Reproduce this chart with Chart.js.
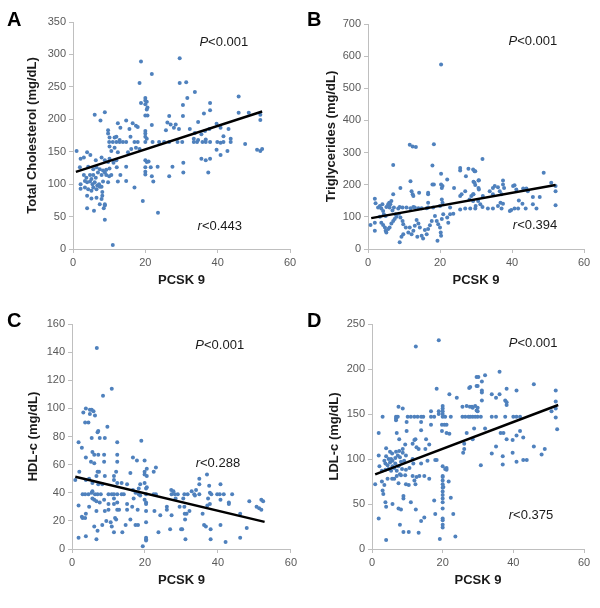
<!DOCTYPE html>
<html>
<head>
<meta charset="utf-8">
<script src="https://cdn.jsdelivr.net/npm/chart.js@4.4.1/dist/chart.umd.min.js"></script>
<style>
  body { margin: 0; background: #fff; width: 600px; height: 608px; position: relative; overflow: hidden; }
  canvas { position: absolute; }
</style>
</head>
<body>
<canvas id="panelA" width="300" height="300" style="left:0;top:0"></canvas>
<canvas id="panelB" width="300" height="300" style="left:300px;top:0"></canvas>
<canvas id="panelC" width="300" height="308" style="left:0;top:300px"></canvas>
<canvas id="panelD" width="300" height="308" style="left:300px;top:300px"></canvas>
<script>
// values: [PCSK 9, lipid value]
const cholPoints = [
  [6.0,207],[8.8,211],[7.6,198],[9.7,183],[9.7,178],[12.4,194],[14.7,198],[16.5,194],[17.4,190],[17.9,188],[13.1,187],[15.6,185],
  [10.1,172],[11.5,172],[12.0,173],[12.9,168],[13.8,165],[15.9,173],
  [10.0,165],[11.0,165],[12.0,165],[12.9,165],[14.7,165],[17.0,165],[17.9,165],[20.0,165],[22.0,165],[23.8,165],[25.2,165],[26.6,165],[28.9,165],[30.2,165],
  [10.1,158],[10.6,151],[11.5,156],[12.4,149],[15.2,149],[16.1,154],[17.4,156],[18.4,154],
  [1.0,151],[2.1,139],[3.0,141],[3.9,149],[4.8,145],[6.3,137],[7.9,141],[8.8,137],[9.7,134],[10.1,139],[11.2,133],[12.0,137],[20.0,137],[20.4,134],[20.9,135],
  [1.9,126],[4.2,127],[5.6,123],[6.5,126],[7.4,123],[8.3,121],[9.2,122],[10.1,124],[12.1,126],[14.7,127],[20.0,126],[21.5,126],[27.5,127],[30.5,133],
  [3.0,114],[3.7,110],[4.7,114],[5.1,108],[5.6,114],[6.3,110],[6.9,118],[7.9,114],[8.8,118],[9.2,114],[10.0,112],[10.6,114],[13.1,114],[20.0,119],[20.0,115],[21.8,112],[23.4,127],[26.6,112],[30.5,118],
  [2.1,100],[3.3,105],[3.9,103],[4.7,104],[5.4,100],[6.0,103],[6.7,98],[7.2,100],[7.9,96],[8.3,104],[9.7,103],[12.4,104],[14.7,105],[22.2,104],
  [2.1,93],[3.3,95],[4.2,92],[5.1,90],[5.6,95],[6.5,92],[7.4,96],[8.1,88],[17.0,95],
  [3.9,82],[5.1,78],[6.5,79],[8.1,82],[7.9,77],[8.8,69],[19.3,74],[8.8,67],
  [3.9,63],[5.8,59],[7.4,69],[8.5,63],[8.8,45],[23.5,56],[11.0,6],
  [18.8,289],[21.8,270],[18.4,256],[20.0,233],[20.0,229],[20.4,227],[20.0,223],[20.6,218],[20.4,215],[20.0,206],[20.6,206],[18.8,225],[21.8,191],[20.0,182],[20.0,178],[20.0,173],[20.4,170],
  [26.6,205],[26.1,195],[25.7,183],[27.0,192],[27.9,187],[28.4,192],[29.3,185],[30.4,205],[29.5,256],[29.5,294],[31.3,257],[31.6,233],[30.4,222],
  [33.7,242],[34.6,196],[36.2,209],[37.9,225],[37.9,214],[45.8,235],[45.8,210],[48.6,210],[51.8,207],[51.8,199],
  [32.3,185],[33.7,179],[35.5,177],[36.5,182],[37.7,185],[39.7,193],[40.8,187],[41.6,174],[43.0,185],
  [33.4,165],[34.3,165],[35.8,165],[36.7,165],[37.9,165],[39.9,165],[40.8,164],[41.6,165],[43.6,165],[47.6,162],
  [33.4,170],[34.6,168],[36.7,169],[43.6,170],
  [39.7,153],[40.8,145],[42.7,151],[50.9,153],[51.8,151],[52.3,154],
  [35.5,139],[36.7,137],[37.9,139],[37.4,118]
];
const trigPoints = [
  [20.3,574],[11.6,324],[12.4,319],[13.3,317],[18.3,326],[7.0,261],[17.9,260],
  [20.3,234],[20.3,201],[20.7,196],[22.0,216],[11.8,211],[12.1,180],[12.4,170],[16.7,175],[17.9,201],[23.9,190],[25.6,165],[26.0,170],
  [0.7,75],[1.9,82],[1.9,57],[1.9,156],[2.1,142],
  [2.8,129],[3.3,134],[3.7,126],[4.0,139],[4.2,118],[4.4,108],[4.9,103],[5.1,131],[5.6,139],[5.9,144],[6.0,129],[6.2,139],[6.5,149],[6.8,120],[7.0,170],[7.2,129],[7.7,108],[8.4,126],[8.8,131],[9.6,129],[10.7,129],[11.8,127],[12.6,131],[13.0,129],[14.0,127],[14.9,127],[16.3,127],[16.7,129],[18.1,129],[20.0,134],[20.5,154],[20.7,144],[22.8,129],[25.6,123],[27.0,126],[28.4,126],[29.8,126],
  [3.3,100],[3.7,82],[4.2,75],[4.7,67],[4.9,57],[5.1,51],[5.6,62],[6.0,67],[6.5,79],[7.0,87],[7.4,93],[7.9,100],[8.6,110],[9.0,98],[9.6,87],[9.8,77],[10.5,67],[11.2,51],[11.6,67],[12.1,46],[12.6,57],[13.0,72],[13.5,90],[14.0,79],[14.4,67],[14.9,41],[15.3,33],[15.8,59],[16.3,46],[16.7,62],[17.2,74],[17.7,87],[18.6,103],[19.1,87],[19.5,77],[20.0,67],[20.2,51],[20.3,41],[20.5,93],[20.9,108],[22.0,98],[22.3,82],[22.8,108],[23.7,110],[19.3,26],[8.8,21],[9.3,38],[9.8,46],[13.7,38],
  [9.0,190],[12.6,165],[14.2,175],[16.7,144],[16.7,170],[18.3,201],[20.5,190],[25.6,244],[25.6,252],[27.9,250],[29.8,242],[27.2,226],[29.3,209],[29.8,199],[29.3,170],[30.7,190],[30.7,213],[27.0,180],
  [31.8,280],[29.2,247],[29.6,242],[30.8,214],[30.8,185],[29.6,206],[29.2,170],[28.7,165],[31.9,165],[33.8,180],[34.7,190],[35.2,196],[36.1,192],[37.5,213],[37.5,201],[37.8,190],[34.7,170],[37.1,170],[36.6,180],[40.3,196],[40.7,198],[41.2,185],[43.1,188],[44.0,188],[44.4,180],[45.8,162],[47.7,162],[48.8,237],[50.9,206],[52.1,196],[52.1,180],[52.1,136],
  [28.2,154],[29.2,149],[29.9,134],[30.6,149],[31.2,139],[31.8,131],[33.3,126],[34.7,126],[36.1,134],[36.8,144],[37.5,141],[37.1,126],[39.4,118],[39.8,121],[40.7,126],[41.7,126],[41.9,151],[42.9,141],[43.8,126],[45.8,139],[46.8,126]
];
const hdlPoints = [
  [6.8,143],[10.9,114],[8.5,109],
  [3.8,100],[4.9,99],[5.4,99],[5.9,98],[3.1,97],[4.9,96],[6.3,95],[3.6,90],[4.5,90],
  [7.2,84],[7.0,83],[9.7,87],
  [1.8,76],[2.7,72],[5.4,79],[7.6,79],[9.0,79],[12.4,76],[19.0,77],
  [3.8,65],[5.6,69],[6.1,67],[7.2,67],[8.8,67],[5.2,62],[6.1,61],[8.8,62],[12.4,67],[12.4,62],[16.7,65],[17.8,63],[19.9,63],[23.0,58],[22.4,55],[20.5,57],[20.5,52],[19.9,53],[19.9,55],[16.0,54],
  [0.9,49],[2.0,55],[3.8,49],[4.7,50],[5.6,47],[6.7,52],[7.0,55],[7.4,55],[7.2,46],[8.3,46],[9.0,52],[11.5,52],[11.5,49],[12.1,55],[12.4,47],[13.6,47],[15.1,46],[18.7,46],[19.9,47],[20.5,44],[20.3,43],[18.3,43],[16.7,42],
  [2.9,39],[3.6,39],[4.5,39],[5.4,40],[6.3,39],[7.0,39],[7.9,39],[10.0,39],[10.9,39],[11.5,39],[12.4,39],[13.6,39],[14.2,39],[17.4,40],[18.3,39],[20.3,39],[23.0,39],[27.3,39],[28.2,39],[29.0,39],[30.8,39],[31.7,39],
  [5.6,41],[6.1,35],[5.6,36],[6.7,34],[7.6,33],[8.8,35],[10.0,32],[11.5,36],[12.4,33],[15.1,32],[16.9,36],[18.7,38],[19.9,35],[20.3,33],[20.3,32],[22.4,39],[26.0,30],[26.0,28],[27.2,42],[27.8,41],[28.4,36],[30.5,36],[30.8,30],
  [1.8,31],[3.8,25],[2.7,23],[2.9,22],[3.6,22],[4.7,30],[6.7,27],[9.0,27],[10.0,28],[11.5,32],[12.4,28],[12.9,28],[15.1,28],[16.5,30],[18.0,28],[20.3,27],[22.6,27],[24.2,24],[27.3,24],[31.4,25],
  [6.1,16],[7.0,13],[8.3,17],[9.4,20],[10.9,16],[10.6,19],[11.8,22],[12.1,21],[14.7,17],[16.0,21],[17.4,17],[18.1,17],[20.3,19],[23.7,12],[26.9,14],[30.2,14],[31.1,7],
  [1.8,8],[3.8,9],[6.7,7],[11.5,12],[13.8,12],[20.3,8],[20.3,7],[20.3,6],[19.4,2],
  [37.0,53],[34.9,50],[34.9,46],[40.7,46],[37.6,45],
  [33.5,39],[34.9,39],[37.8,40],[39.8,39],[40.5,39],[41.6,39],[43.9,39],
  [32.8,41],[33.7,38],[34.0,42],[37.3,36],[38.2,39],
  [29.5,30],[32.2,27],[30.9,25],[35.8,25],[37.1,31],[37.8,32],[40.7,35],[43.0,33],[43.0,32],[48.6,34],[50.6,30],[51.9,35],[52.4,34],[51.3,29],[51.9,28],[46.1,25],
  [31.0,21],[36.2,17],[36.7,16],[38.0,14],[40.7,17],[47.9,15],[29.9,14],[38.0,7],[42.1,5],[46.1,8]
];
const ldlPoints = [
  [12.4,225],[18.9,232],[18.3,178],[21.9,172],[24.0,168],[27.5,179],[29.6,191],[29.6,181],
  [3.0,147],[6.8,147],[7.3,147],[10.1,147],[11.0,147],[12.0,147],[12.9,147],[13.9,147],[14.5,147],[16.7,147],[17.6,147],[20.0,147],[20.7,147],[22.3,147],[25.6,147],[26.4,147],[27.3,147],[28.5,147],[29.9,147],
  [6.8,145],[6.8,143],[7.5,158],[8.7,156],[13.9,141],[16.7,153],[18.9,153],[20.0,159],[20.0,156],[20.0,153],[20.0,150],[18.9,150],[25.6,158],[26.8,159],[27.7,158],[28.5,157],[29.6,154],
  [1.9,129],[7.0,129],[9.8,131],[9.8,141],[19.8,138],[20.5,138],[21.1,138],[16.7,138],[13.9,132],[15.3,122],[12.3,122],[12.0,121],[7.7,122],[4.0,112],[5.1,108],[6.8,108],[5.7,106],[7.7,109],[8.7,111],[9.4,116],[11.5,117],[12.6,113],[13.2,111],[15.1,111],[16.2,116],[19.8,131],[21.1,129],[21.9,128],[26.8,129],[28.5,122],[26.1,117],[26.1,111],[25.8,107],
  [4.0,103],[4.7,100],[5.4,100],[5.8,98],[6.6,101],[7.3,104],[7.9,102],[8.7,107],[3.5,98],[3.8,95],[4.4,93],[5.1,96],[5.8,92],[6.6,95],[7.5,92],[8.2,97],[9.1,98],[9.6,104],[1.9,104],[2.1,92],[2.8,87],[3.8,88],[4.7,89],[5.4,87],[6.3,90],[7.0,87],[7.9,83],[8.5,89],[9.6,88],[10.6,90],[11.5,100],[11.7,95],[13.9,95],[15.7,98],[17.9,99],
  [2.8,75],[3.5,71],[4.4,78],[5.7,78],[6.3,78],[7.0,81],[7.5,73],[8.2,82],[9.4,82],[9.6,72],[10.4,71],[11.5,81],[12.0,76],[12.3,72],[12.6,80],[13.4,81],[14.8,81],[16.2,78],[18.3,99],[20.0,92],[20.7,89],[21.1,88],[20.0,81],[20.0,80],
  [20.0,76],[20.0,72],[20.0,68],[20.0,64],[20.0,60],[20.0,56],[20.0,52],[20.0,45],[20.0,34],[20.0,32],[20.0,27],[20.0,24],[20.2,69],[21.1,90],[21.7,75],[22.3,57],[23.0,39],
  [0.9,72],[3.0,65],[3.2,61],[3.8,52],[4.0,47],[5.8,50],[7.5,45],[8.2,44],[8.9,59],[8.9,56],[11.0,52],[12.4,44],[14.8,35],[13.9,31],[17.6,54],[17.9,39],[1.9,34],[7.9,27],[8.9,19],[10.4,19],[13.2,18],[19.2,11],[23.6,14],[4.0,10],
  [36.1,197],[32.0,193],[30.1,191],[31.1,186],[29.9,181],[31.1,176],[31.1,174],[31.1,165],[27.8,180],[33.9,172],[35.1,168],[36.1,172],[37.7,165],[38.1,163],[38.1,160],[38.1,178],[40.9,176],[45.8,183],[52.0,176],[52.0,164],[52.0,156],
  [27.8,147],[29.2,147],[30.8,147],[33.9,147],[35.1,147],[37.7,147],[40.0,147],[40.9,147],[41.9,147],
  [29.2,159],[29.9,157],[29.9,153],[28.3,158],
  [28.9,134],[32.0,134],[36.4,129],[37.2,129],[38.1,122],[39.8,121],[40.9,126],[41.9,131],[42.8,124],[50.8,153],[52.0,146],[52.4,133],
  [35.1,114],[33.9,106],[37.0,103],[39.8,107],[40.9,97],[42.8,99],[43.8,99],[45.8,114],[48.0,105],[48.9,111],[30.8,93],[37.0,94]
];

// regression line end points
const cholTrend = [[0.8,119],[52.3,212]];
const trigTrend = [[0.9,96],[52.1,199]];
const hdlTrend = [[0.9,51.4],[52.8,19.3]];
const ldlTrend = [[0.9,83],[52.7,160]];

// axis ranges [max, step]
const pcskAxis = [60, 20];
const cholAxis = [350, 50];
const trigAxis = [700, 100];
const hdlAxis = [160, 20];
const ldlAxis = [250, 50];

const pValues = ['0.001', '0.001', '0.001', '0.001'];
const rValues = ['0.443', '0.394', '0.288', '0.375'];
const panelLetters = ['A', 'B', 'C', 'D'];
const yTitles = ['Total Cholesterol (mg/dL)', 'Triglycerides (mg/dL)', 'HDL-c (mg/dL)', 'LDL-c (mg/dL)'];

const FONT = "'Liberation Sans', Arial, sans-serif";
const toXY = arr => arr.map(([x, y]) => ({ x, y }));

// panel letter + P / r notes
const notesPlugin = {
  id: 'notes',
  afterDraw(chart, args, o) {
    const ctx = chart.ctx;
    const xs = chart.scales.x, ys = chart.scales.y;
    ctx.save();
    ctx.fillStyle = '#000';
    ctx.font = 'bold 20px ' + FONT;
    ctx.textBaseline = 'alphabetic';
    ctx.textAlign = 'left';
    ctx.fillText(o.letter, 7, o.letterY);

    const drawNote = (sym, rest, pos) => {
      const cx = xs.getPixelForValue(pos[0]);
      const cy = ys.getPixelForValue(pos[1]);
      ctx.font = 'italic 13px ' + FONT;
      const w1 = ctx.measureText(sym).width;
      ctx.font = '13px ' + FONT;
      const w2 = ctx.measureText(rest).width;
      const x0 = cx - (w1 + w2) / 2;
      ctx.fillStyle = '#1a1a1a';
      ctx.textBaseline = 'middle';
      ctx.font = 'italic 13px ' + FONT;
      ctx.fillText(sym, x0, cy);
      ctx.font = '13px ' + FONT;
      ctx.fillText(rest, x0 + w1, cy);
    };
    drawNote('P', '<' + o.p, o.pPos);
    drawNote('r', '<' + o.r, o.rPos);
    ctx.restore();
  }
};

function makePanel(id, i, points, trend, yAxis, lay) {
  new Chart(document.getElementById(id), {
    type: 'scatter',
    data: {
      datasets: [
        { data: toXY(trend), showLine: true, borderColor: '#000', borderWidth: 2.5, pointRadius: 0, order: 0 },
        { data: toXY(points), pointRadius: 2, pointBorderWidth: 0, backgroundColor: '#4f81bd', order: 1 }
      ]
    },
    options: {
      responsive: false,
      animation: false,
      events: [],
      layout: { padding: { top: lay.top, right: lay.right, bottom: 0, left: 0 } },
      plugins: {
        legend: { display: false },
        tooltip: { enabled: false },
        notes: { letter: panelLetters[i], letterY: lay.letterY, p: pValues[i], r: rValues[i], pPos: lay.pPos, rPos: lay.rPos }
      },
      scales: {
        x: {
          type: 'linear', min: 0, max: pcskAxis[0],
          ticks: { stepSize: pcskAxis[1], color: '#595959', font: { family: FONT, size: 11 }, padding: 3, maxRotation: 0 },
          grid: { drawOnChartArea: false, tickLength: 4, color: '#bfbfbf' },
          border: { color: '#bfbfbf' },
          title: { display: true, text: 'PCSK 9', color: '#1a1a1a', font: { family: FONT, size: 13, weight: 'bold' }, padding: { top: 0, bottom: lay.xTitlePad } },
          afterFit(s) { s.height = lay.xHeight; }
        },
        y: {
          min: 0, max: yAxis[0],
          ticks: { stepSize: yAxis[1], color: '#595959', font: { family: FONT, size: 11 }, padding: 3 },
          grid: { drawOnChartArea: false, tickLength: 4, color: '#bfbfbf' },
          border: { color: '#bfbfbf' },
          title: { display: true, text: yTitles[i], color: '#1a1a1a', font: { family: FONT, size: 13, weight: 'bold' }, padding: { top: lay.yTitlePad, bottom: 0 } },
          afterFit(s) { s.width = lay.yWidth; }
        }
      }
    },
    plugins: [notesPlugin]
  });
}

makePanel('panelA', 0, cholPoints, cholTrend, cholAxis,
  { top: 22, right: 10, xHeight: 51, yWidth: 73, xTitlePad: 12, yTitlePad: 25, letterY: 26, pPos: [41.7, 319], rPos: [40.6, 35] });
makePanel('panelB', 1, trigPoints, trigTrend, trigAxis,
  { top: 24, right: 16, xHeight: 51, yWidth: 68, xTitlePad: 12, yTitlePad: 24, letterY: 26, pPos: [45.8, 647], rPos: [46.4, 72] });
makePanel('panelC', 2, hdlPoints, hdlTrend, hdlAxis,
  { top: 24, right: 6, xHeight: 59, yWidth: 72, xTitlePad: 20, yTitlePad: 26, letterY: 27, pPos: [40.5, 145], rPos: [40, 61] });
makePanel('panelD', 3, ldlPoints, ldlTrend, ldlAxis,
  { top: 24, right: 16, xHeight: 59, yWidth: 72, xTitlePad: 20, yTitlePad: 27, letterY: 27, pPos: [45.6, 228], rPos: [45, 37] });
</script>
</body>
</html>
